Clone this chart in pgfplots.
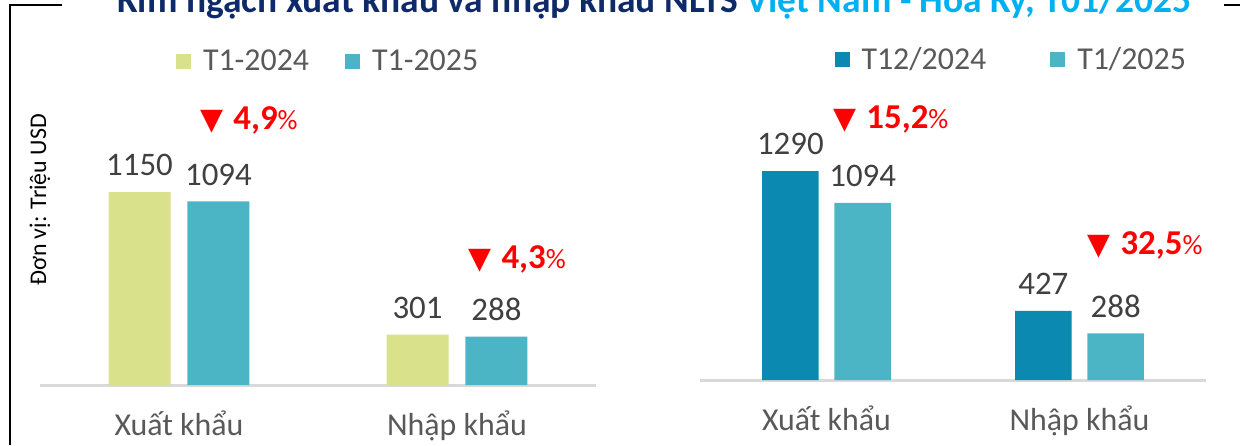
\documentclass[border=0pt]{standalone}
\usepackage{pgfplots}
\pgfplotsset{compat=1.18}
\usepackage{fontspec}
\setmainfont{Carlito}
\newfontfamily\symfont{DejaVu Sans}

\definecolor{lime}{HTML}{D9E18B}
\definecolor{teal}{HTML}{4BB5C6}
\definecolor{deepteal}{HTML}{0B89B1}
\definecolor{baseln}{HTML}{D9D9D9}
\definecolor{lbl}{HTML}{404040}
\definecolor{leg}{HTML}{595959}
\definecolor{navy}{HTML}{0F2A69}
\definecolor{sky}{HTML}{00B0F0}

\pgfplotsset{
  twobars/.style={
    scale only axis, clip=false,
    xmin=-0.5, xmax=1.5, ymin=0, ymax=1800,
    hide y axis, axis x line*=bottom,
    x axis line style={draw=baseln, line width=1.5bp, -},
    xtick={0,1}, xticklabels={Xuất khẩu, Nhập khẩu},
    major tick length=0,
    xticklabel style={anchor=base, yshift=-25bp, text=leg,
      font=\fontsize{16}{19}\selectfont},
    ybar, bar width=0.223,
    nodes near coords={\pgfmathprintnumber[1000 sep={}, assume math mode=true]{\pgfplotspointmeta}},
    nodes near coords style={text=lbl, yshift=4.5bp, font=\fontsize{16.5}{19}\selectfont},
    legend image code/.code={\fill[##1] (0bp,-3.5bp) rectangle (7.5bp,4bp);},
    legend style={anchor=center, draw=none, fill=none, legend columns=-1,
      font=\fontsize{16}{19}\selectfont, text=leg,
      /tikz/every odd column/.append style={column sep=4bp}},
  },
}

\newcommand{\drop}[1]{%
  {\symfont\fontsize{15}{15}\selectfont ▼}\hspace{5bp}%
  {\bfseries\fontsize{17.5}{20}\selectfont #1}%
  {\fontsize{14}{16}\selectfont\%}}

\begin{document}
\begin{tikzpicture}[x=1bp,y=1bp]
\path[use as bounding box] (0,0) rectangle (627,222.5);
\clip (0,0) rectangle (627,222.5);

% frame
\draw[line width=0.8bp] (5,0) -- (5,220) -- (31,220);
\draw[line width=0.8bp] (612,220) -- (620,220);

% title, cut off at the top
\node[anchor=base west, inner sep=0, font=\bfseries\fontsize{18.8}{22}\selectfont]
  at (58.5,216.5) {\textcolor{navy}{Kim ngạch xuất khẩu và nhập khẩu NLTS }\textcolor{sky}{Việt Nam - Hoa Kỳ, T01/2025}};

% unit label
\node[rotate=90, font=\fontsize{12}{14}\selectfont] at (20,122.5) {Đơn vị: Triệu USD};

\begin{axis}[twobars,
  at={(20bp,30bp)}, anchor=south west,
  width=278bp, height=151bp,
  legend style={at={(0.52,1.07)},
    /tikz/every even column/.append style={column sep=16bp}},
]
\addplot[fill=lime, draw=none, bar shift=-0.142] coordinates {(0,1150) (1,301)};
\addplot[fill=teal, draw=none, bar shift=0.142] coordinates {(0,1094) (1,288)};
\legend{T1-2024, T1-2025}
\node[anchor=west, inner sep=0, text=red] at (axis cs:0.0755,1579) {\drop{4,9}};
\node[anchor=west, inner sep=0, text=red] at (axis cs:1.04,751) {\drop{4,3}};
\end{axis}

\begin{axis}[twobars,
  at={(350bp,32.5bp)}, anchor=south west,
  width=253bp, height=145.8bp,
  legend style={at={(0.617,1.097)},
    /tikz/every even column/.append style={column sep=30bp}},
]
\addplot[fill=deepteal, draw=none, bar shift=-0.143] coordinates {(0,1290) (1,427)};
\addplot[fill=teal, draw=none, bar shift=0.143] coordinates {(0,1094) (1,288)};
\legend{T12/2024, T1/2025}
\node[anchor=west, inner sep=0, text=red] at (axis cs:0.0257,1611) {\drop{15,2}};
\node[anchor=west, inner sep=0, text=red] at (axis cs:1.03,833) {\drop{32,5}};
\end{axis}
\end{tikzpicture}
\end{document}
